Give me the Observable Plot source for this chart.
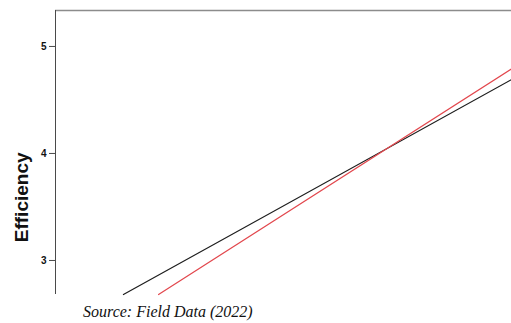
<!DOCTYPE html>
<html>
<head>
<meta charset="utf-8">
<script src="https://cdn.jsdelivr.net/npm/d3@7"></script>
<script src="https://cdn.jsdelivr.net/npm/@observablehq/plot@0.6"></script>
<style>
  html, body { margin: 0; padding: 0; background: #fff; width: 511px; height: 323px; overflow: hidden; }
  #chart svg { display: block; }
  #caption { font-family: "Liberation Serif", "Times New Roman", serif; font-style: italic; font-size: 16px; line-height: 20px; margin: 0; padding-top: 5px; padding-left: 83px; color: #111; }
</style>
</head>
<body>
<div id="chart"></div>
<div id="caption">Source: Field Data (2022)</div>
<script>
// Tick labels on the Efficiency axis
const yTicks = [3, 4, 5];
// Visible extent of the Efficiency axis (frame top / bottom)
const yDomain = [2.682, 5.336];
// Hidden predictor axis extent
const xDomain = [1, 5];
// Fit line 1 (black)
const blackX = [1.596, 5];
const blackY = [2.682, 4.69];
// Fit line 2 (red)
const redX = [1.904, 5];
const redY = [2.682, 4.79];
const seriesNames = ["Line A", "Line B"];

const rows = [
  ...blackX.map((x, i) => ({series: seriesNames[0], x, y: blackY[i]})),
  ...redX.map((x, i) => ({series: seriesNames[1], x, y: redY[i]}))
];

const chart = Plot.plot({
  width: 511,
  height: 297,
  marginTop: 10,
  marginBottom: 3,
  marginLeft: 55,
  marginRight: 0,
  style: {fontFamily: "'Liberation Sans', Arial, sans-serif", background: "#fff", color: "#111"},
  x: {domain: xDomain, axis: null},
  y: {domain: yDomain},
  color: {domain: seriesNames, range: ["#1e1e1e", "#e2474d"]},
  marks: [
    Plot.ruleY([yDomain[1]], {stroke: "#8c8c8c", strokeWidth: 1.6}),
    Plot.ruleX([xDomain[0]], {stroke: "#4a4a4a", strokeWidth: 1}),
    Plot.axisY(yTicks, {tickSize: 6, tickPadding: 3, fontSize: 10, fontWeight: "bold", tickFormat: d3.format("d"), label: null, stroke: "#4a4a4a"}),
    Plot.text(["Efficiency"], {x: () => xDomain[0], y: () => 3.59, rotate: -90, dx: -34, fontSize: 19, fontWeight: "bold", fill: "#111"}),
    Plot.line(rows, {x: "x", y: "y", z: "series", stroke: "series", strokeWidth: 1.2})
  ]
});
document.getElementById("chart").append(chart);
</script>
</body>
</html>
